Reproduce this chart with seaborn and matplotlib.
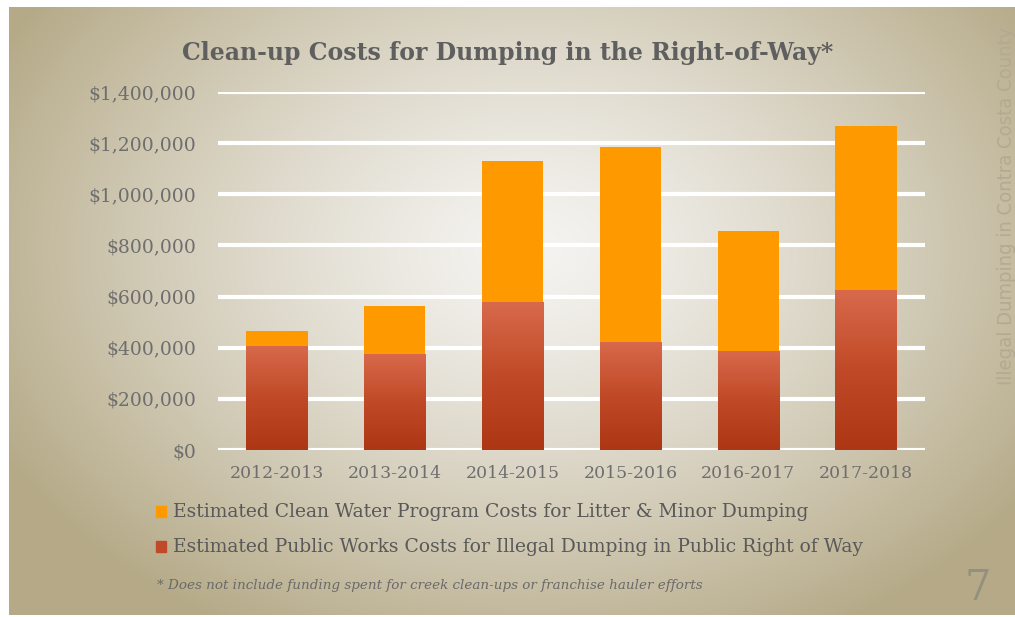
import matplotlib
matplotlib.use("Agg")
import matplotlib.pyplot as plt
import seaborn as sns
import numpy as np
import pandas as pd

# data
years = ["2012-2013", "2013-2014", "2014-2015", "2015-2016", "2016-2017", "2017-2018"]
public_works = [408000, 376000, 578000, 424000, 389000, 625000]
clean_water = [59000, 189000, 551000, 760000, 467000, 641000]
tick_values = [0, 200000, 400000, 600000, 800000, 1000000, 1200000, 1400000]

df = pd.DataFrame({"year": years, "pw": public_works, "cw": clean_water})
df["total"] = df["pw"] + df["cw"]

sns.set_theme(style="white")
serif = ["DejaVu Serif"]

W, H = 1015, 617
fig = plt.figure(figsize=(W / 100, H / 100), dpi=100)
fig.patch.set_facecolor("white")

# slide background: radial gradient light centre, tan edges
bg = fig.add_axes([9 / W, 2 / H, (W - 9) / W, (H - 9) / H])
yy, xx = np.mgrid[0:1:300j, 0:1:500j]
r = np.sqrt(((xx - 0.52) / 0.6) ** 2 + ((yy - 0.6) / 0.72) ** 2)
r = np.clip(r, 0, 1) ** 1.3
c0 = np.array([0.96, 0.955, 0.945])
c1 = np.array([0.71, 0.665, 0.53])
img = c0[None, None, :] * (1 - r[..., None]) + c1[None, None, :] * r[..., None]
bg.imshow(img, extent=[0, 1, 0, 1], aspect="auto", origin="lower")
bg.set_axis_off()

ax = fig.add_axes([218 / W, 1 - 450 / H, (925 - 218) / W, (450 - 92) / H])
ax.patch.set_alpha(0)

sns.barplot(data=df, x="year", y="total", color="#ff9900", width=0.52,
            saturation=1, linewidth=0, ax=ax, zorder=3)
sns.barplot(data=df, x="year", y="pw", color="#c8502f", width=0.52,
            saturation=1, linewidth=0, ax=ax, zorder=4)

# vertical gradient on the public works bars
grad = np.linspace(0, 1, 100)[:, None]
cmap = matplotlib.colors.LinearSegmentedColormap.from_list(
    "rw", ["#ad3714", "#c04a27", "#d8694b"])
for p in ax.patches[len(years):]:
    x0, y0 = p.get_x(), p.get_y()
    im = ax.imshow(grad, cmap=cmap, origin="lower", aspect="auto",
                   extent=[x0, x0 + p.get_width(), y0, y0 + p.get_height()],
                   zorder=5)
    im.set_clip_path(p)

ax.set_xlim(-0.5, len(years) - 0.5)
ax.set_ylim(0, 1400000)
ax.set_yticks(tick_values)
ax.set_yticklabels([f"${v:,.0f}" for v in tick_values], family=serif,
                   fontsize=13.5, color="#6e6e6e")
ax.set_xticks(range(len(years)))
ax.set_xticklabels(years, family=serif, fontsize=12.4, color="#6e6e6e")
ax.tick_params(axis="y", length=0, pad=16)
ax.tick_params(axis="x", length=0, pad=11)
ax.grid(axis="y", color="white", lw=3, zorder=1)
ax.set_axisbelow(True)
for s in ax.spines.values():
    s.set_visible(False)
ax.set_xlabel("")
ax.set_ylabel("")

fig.text(508 / W, 1 - 53 / H, "Clean-up Costs for Dumping in the Right-of-Way*",
         ha="center", va="center", family=serif, fontsize=17,
         fontweight="bold", color="#5f5f5f")

# legend
leg = [("#ff9900", "Estimated Clean Water Program Costs for Litter & Minor Dumping", 512),
       ("#c04a27", "Estimated Public Works Costs for Illegal Dumping in Public Right of Way", 547)]
for col, txt, y in leg:
    fig.patches.append(matplotlib.patches.Rectangle(
        (156 / W, 1 - (y + 5) / H), 10 / W, 11 / H, color=col,
        transform=fig.transFigure))
    fig.text(173 / W, 1 - y / H, txt, ha="left", va="center", family=serif,
             fontsize=13.5, color="#595959")

fig.text(157 / W, 1 - 586 / H,
         "* Does not include funding spent for creek clean-ups or franchise hauler efforts",
         ha="left", va="center", family=serif, style="italic", fontsize=9.7,
         color="#6a6a6a")
fig.text(978 / W, 1 - 588 / H, "7", ha="center", va="center", family=serif,
         fontsize=30, color="#94907f")
fig.text(1006 / W, 1 - 206 / H, "Illegal Dumping in Contra Costa County",
         rotation=90, ha="center", va="center", family=["DejaVu Sans"],
         fontstretch="condensed", fontsize=14.5, color="#b2aa91")

fig.savefig("out.png", dpi=100)
